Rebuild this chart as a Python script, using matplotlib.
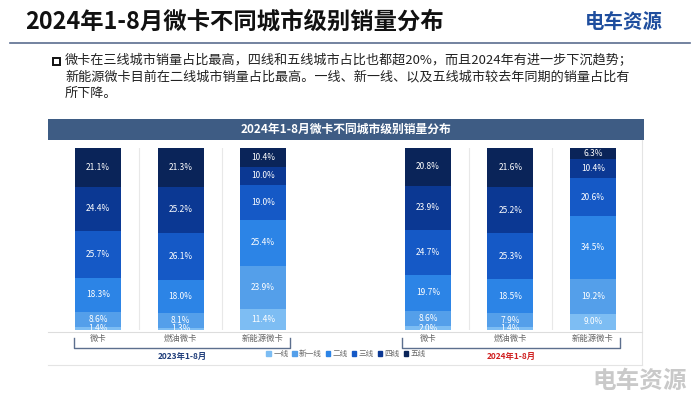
import matplotlib
matplotlib.use("Agg")
import matplotlib.pyplot as plt
import matplotlib.transforms as mtransforms
from matplotlib.patches import Rectangle, Patch
from matplotlib.lines import Line2D

plt.rcParams['font.family'] = ['Noto Sans CJK SC', 'DejaVu Sans']

W, H = 700, 394

# data (shares in %, bottom to top: 一线 ... 五线)
cities = ["一线", "新一线", "二线", "三线", "四线", "五线"]
products = ["微卡", "燃油微卡", "新能源微卡"]
periods = ["2023年1-8月", "2024年1-8月"]
weika_2023 = [1.4, 8.6, 18.3, 25.7, 24.4, 21.1]
ranyou_2023 = [1.3, 8.1, 18.0, 26.1, 25.2, 21.3]
xinnengyuan_2023 = [11.4, 23.9, 25.4, 19.0, 10.0, 10.4]
weika_2024 = [2.0, 8.6, 19.7, 24.7, 23.9, 20.8]
ranyou_2024 = [1.4, 7.9, 18.5, 25.3, 25.2, 21.6]
xinnengyuan_2024 = [9.0, 19.2, 34.5, 20.6, 10.4, 6.3]

bars = [weika_2023, ranyou_2023, xinnengyuan_2023,
        weika_2024, ranyou_2024, xinnengyuan_2024]
xpos = [0, 1, 2, 4, 5, 6]
cityColors = ["#7dbdf3", "#549fea", "#2c84e6", "#1559c6", "#0b3893", "#0a2459"]


def fx(x):
    return x / W


def fy(y):
    return 1 - y / H


fig = plt.figure(figsize=(7, 3.94), dpi=100)
fig.patch.set_facecolor("white")

# header
fig.text(fx(25), fy(22), "2024年1-8月微卡不同城市级别销量分布", fontsize=16.8,
         fontweight="bold", color="#111111", va="center", ha="left")
fig.text(fx(585), fy(22), "电车资源", fontsize=14, fontweight="bold",
         color="#1f4e9e", va="center", ha="left")
fig.add_artist(Line2D([fx(10), fx(690)], [fy(43), fy(43)], color="#5b6d8f", lw=1.2))

# bullet text
fig.add_artist(Rectangle((fx(53), fy(65)), 7 / W, 7 / H, fill=False, ec="#111111", lw=1.4))
lines = ["微卡在三线城市销量占比最高，四线和五线城市占比也都超20%，而且2024年有进一步下沉趋势；",
         "新能源微卡目前在二线城市销量占比最高。一线、新一线、以及五线城市较去年同期的销量占比有",
         "所下降。"]
for i, s in enumerate(lines):
    fig.text(fx(65), fy(61 + 16 * i), s, fontsize=9.45, color="#222222", va="center", ha="left")

# banner
fig.add_artist(Rectangle((fx(48), fy(140)), 596 / W, 21 / H, color="#3e5c84", lw=0))
fig.text(fx(346), fy(129.5), "2024年1-8月微卡不同城市级别销量分布", fontsize=8.5,
         fontweight="bold", color="white", va="center", ha="center")

# panel borders
fig.add_artist(Line2D([fx(48), fx(642)], [fy(365), fy(365)], color="#e4e4e4", lw=0.8))
fig.add_artist(Line2D([fx(642), fx(642)], [fy(140), fy(365)], color="#e4e4e4", lw=0.8))
fig.add_artist(Line2D([fx(48), fx(642)], [fy(332), fy(332)], color="#dddddd", lw=0.8))

ax = fig.add_axes([fx(57), fy(330), 577 / W, 182 / H])
for x, vals in zip(xpos, bars):
    total = sum(vals)
    bottom = 0
    for v, c in zip(vals, cityColors):
        h = v / total
        ax.bar(x, h, bottom=bottom, width=0.56, color=c, lw=0)
        ax.text(x, bottom + h / 2, f"{v:.1f}%", color="white", fontsize=6,
                ha="center", va="center")
        bottom += h

for sx in [0.5, 1.5, 4.5, 5.5]:
    ax.axvline(sx, color="#e8e8e8", lw=0.8)

ax.set_xlim(-0.5, 6.5)
ax.set_ylim(0, 1)
ax.set_xticks(xpos, products * 2)
ax.tick_params(axis="x", length=0, pad=3, labelsize=6, labelcolor="#666666")
ax.set_yticks([])
for sp in ax.spines.values():
    sp.set_visible(False)

# group brackets
trans = mtransforms.blended_transform_factory(ax.transData, fig.transFigure)
for (x0, x1), label, col in zip([(-0.29, 2.33), (3.68, 6.33)], periods, ["#1f3d7a", "#d02020"]):
    ax.plot([x0, x0, x1, x1], [fy(338), fy(348), fy(348), fy(338)], color="#5c6f8e",
            lw=1.0, transform=trans, clip_on=False, solid_joinstyle="round")
    ax.text((x0 + x1) / 2, fy(356), label, transform=trans, fontsize=6, fontweight="bold",
            color=col, ha="center", va="center")

handles = [Patch(color=c, label=n) for c, n in zip(cityColors, cities)]
leg = fig.legend(handles=handles, loc="center", bbox_to_anchor=(fx(346), fy(354)), ncol=6,
                 frameon=False, fontsize=5.5, handlelength=0.6, handleheight=0.6,
                 handletextpad=0.3, columnspacing=0.5)
for t in leg.get_texts():
    t.set_color("#666666")

fig.text(fx(592), fy(381), "电车资源", fontsize=17, fontweight="bold",
         color="#c9c9c9", va="center", ha="left")

fig.savefig("out.png", dpi=100)
